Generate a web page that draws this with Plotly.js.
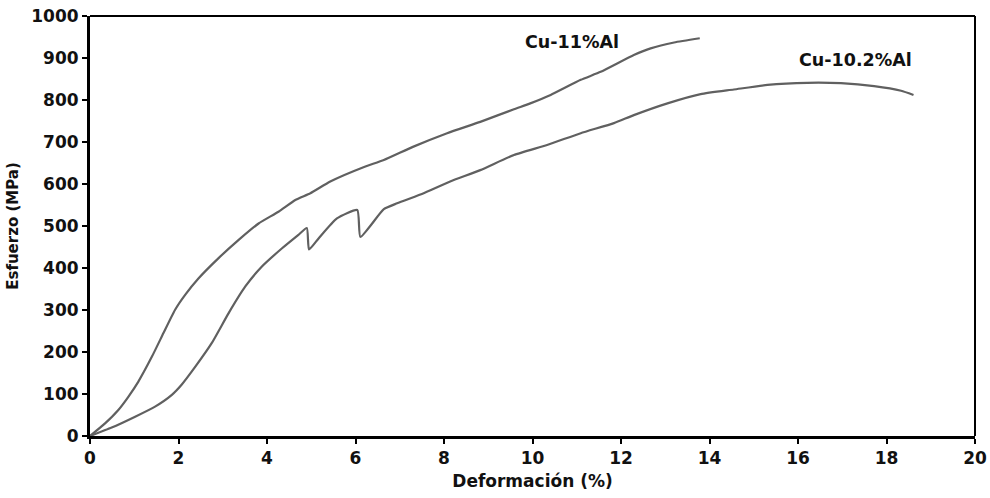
<!DOCTYPE html>
<html>
<head>
<meta charset="utf-8">
<script src="https://cdn.plot.ly/plotly-3.0.1.min.js"></script>
<style>html,body{margin:0;padding:0;background:#fff;}#chart{width:990px;height:498px;}</style>
</head>
<body>
<div id="chart"></div>
<script>
// Cu-11%Al (strain %, stress MPa)
var cu11_x = [0, 0.34, 0.64, 0.87, 1.09, 1.40, 1.66, 1.92, 2.15, 2.45, 2.90, 3.36, 3.81, 4.26, 4.64, 4.98, 5.43, 6.18, 6.64, 7.31, 8.07, 8.82, 9.58, 9.95, 10.41, 11.09, 11.54, 12.29, 12.67, 13.2, 13.78];
var cu11_y = [0, 30, 62, 94, 129, 189, 245, 300, 336, 375, 423, 467, 506, 534, 562, 578, 606, 640, 657, 689, 721, 748, 778, 792, 812, 848, 867, 907, 923, 937, 947];

// Cu-10.2%Al
var cu102_x = [0, 0.49, 1.02, 1.47, 1.85, 2.07, 2.38, 2.75, 3.13, 3.51, 3.88, 4.34, 4.71, 4.90, 4.95, 5.17, 5.58, 6.04, 6.11, 6.64, 6.94, 7.54, 8.14, 8.82, 9.58, 10.33, 11.09, 11.84, 12.29, 13.05, 13.8, 14.55, 15.31, 16.21, 16.97, 17.72, 18.33, 18.61];
var cu102_y = [0, 20, 46, 70, 98, 122, 165, 221, 292, 356, 403, 447, 479, 495, 444, 471, 518, 538, 474, 540, 554, 578, 606, 633, 669, 693, 721, 745, 764, 792, 814, 825, 836, 841, 840, 833, 822, 812];

var seriesNames = ["Cu-11%Al", "Cu-10.2%Al"];
var xTicks = [0, 2, 4, 6, 8, 10, 12, 14, 16, 18, 20];
var yTicks = [0, 100, 200, 300, 400, 500, 600, 700, 800, 900, 1000];

var fontFam = "'DejaVu Sans', 'Noto Sans', sans-serif";
var lineStyle = {color: '#606060', width: 2.2, shape: 'spline', smoothing: 0.5};

var traces = [
  {x: cu11_x, y: cu11_y, mode: 'lines', name: seriesNames[0], line: lineStyle, showlegend: false},
  {x: cu102_x, y: cu102_y, mode: 'lines', name: seriesNames[1], line: lineStyle, showlegend: false}
];

function boldLabels(arr) { return arr.map(function (v) { return '<b>' + v + '</b>'; }); }

var axisCommon = {
  showline: true, linecolor: '#000', linewidth: 3,
  ticks: 'outside', ticklen: 5, tickwidth: 2, tickcolor: '#000',
  showgrid: false, zeroline: false,
  tickfont: {family: fontFam, size: 17, color: '#111', weight: 'bold'}
};

var layout = {
  width: 990, height: 498,
  margin: {l: 90, r: 15, t: 16, b: 62},
  paper_bgcolor: '#fff', plot_bgcolor: '#fff',
  xaxis: Object.assign({}, axisCommon, {
    range: [0, 20], tickmode: 'array', tickvals: xTicks, ticktext: boldLabels(xTicks),
    title: {text: '<b>Deformación (%)</b>', standoff: 8, font: {family: fontFam, size: 17, color: '#111', weight: 'bold'}}
  }),
  yaxis: Object.assign({}, axisCommon, {
    range: [0, 1000], tickmode: 'array', tickvals: yTicks, ticktext: boldLabels(yTicks),
    title: {text: '<b>Esfuerzo (MPa)</b>', standoff: 10, font: {family: fontFam, size: 15, color: '#111', weight: 'bold'}}
  }),
  shapes: [
    {type: 'line', xref: 'paper', yref: 'paper', x0: 0, x1: 1, y0: 1, y1: 1, line: {color: '#000', width: 2}},
    {type: 'line', xref: 'paper', yref: 'paper', x0: 1, x1: 1, y0: 0, y1: 1, line: {color: '#000', width: 2}}
  ],
  annotations: [
    {x: 10.9, y: 938, xref: 'x', yref: 'y', text: '<b>' + seriesNames[0] + '</b>', showarrow: false, xanchor: 'center', yanchor: 'middle',
     font: {family: fontFam, size: 17.5, color: '#111', weight: 'bold'}},
    {x: 17.3, y: 895, xref: 'x', yref: 'y', text: '<b>' + seriesNames[1] + '</b>', showarrow: false, xanchor: 'center', yanchor: 'middle',
     font: {family: fontFam, size: 17.5, color: '#111', weight: 'bold'}}
  ]
};

Plotly.newPlot('chart', traces, layout, {displayModeBar: false, staticPlot: true});
</script>
</body>
</html>
